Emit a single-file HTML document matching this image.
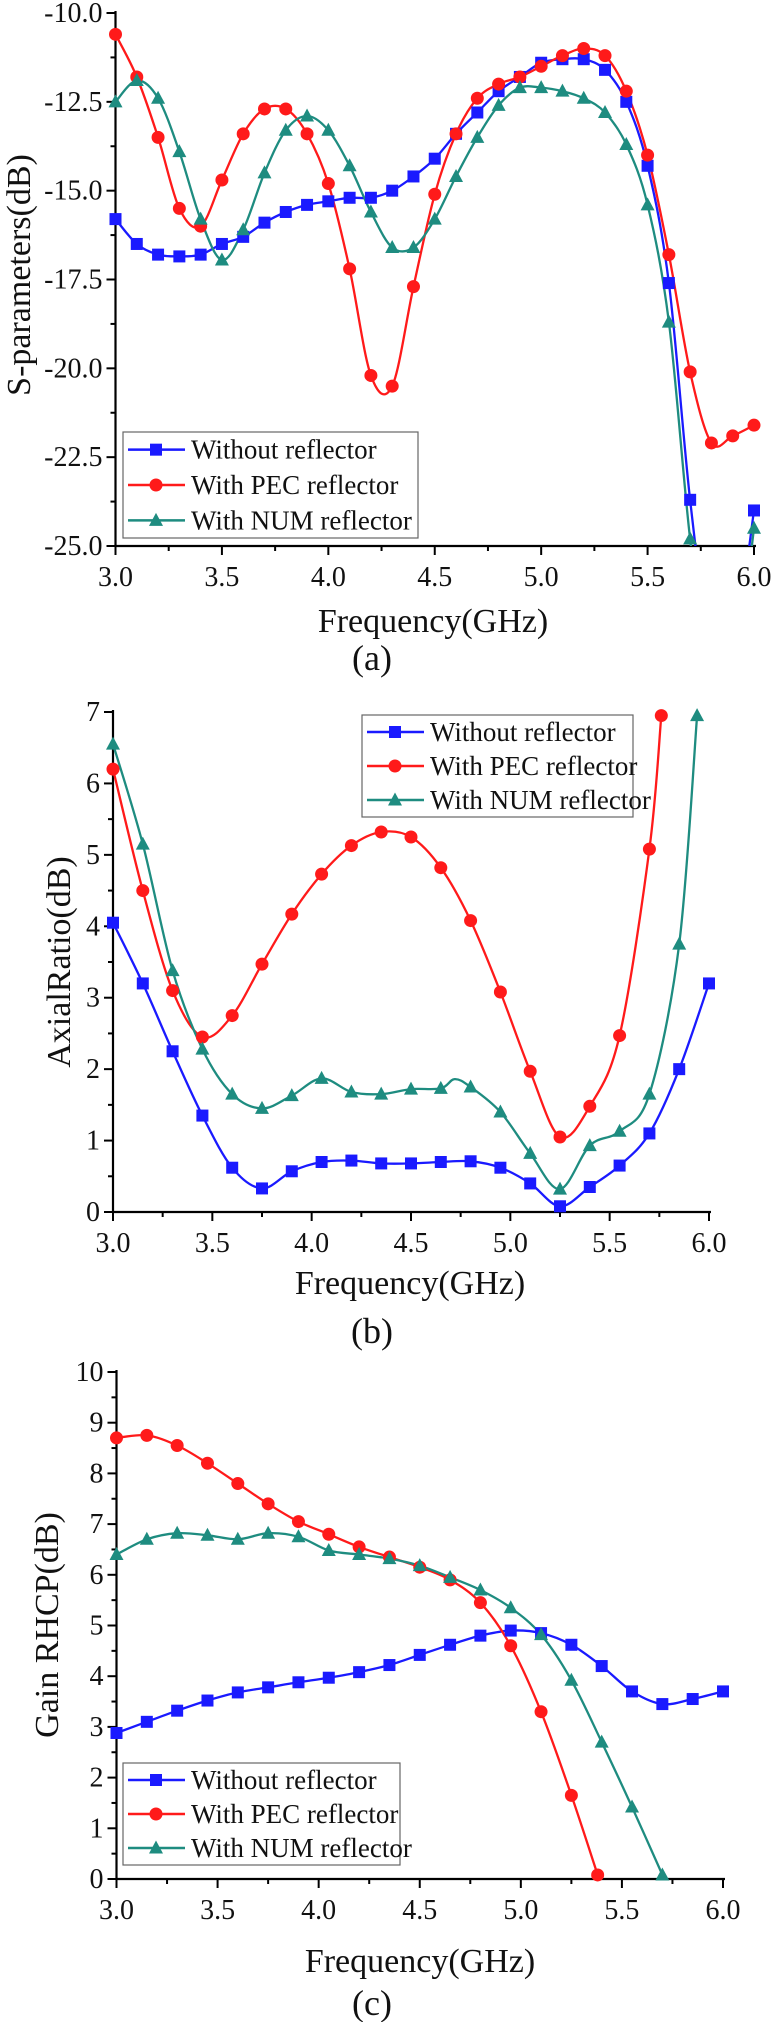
<!DOCTYPE html>
<html><head><meta charset="utf-8">
<style>
html,body{margin:0;padding:0;background:#fff;}
svg{display:block;}
text{font-family:"Liberation Serif",serif;fill:#111;}
</style></head>
<body>
<svg id="s" width="771" height="2022" viewBox="0 0 771 2022" xmlns="http://www.w3.org/2000/svg">
<defs>
<clipPath id="ca"><rect x="115" y="0" width="656" height="546"/></clipPath>
</defs>
</svg>
<script>
const NS="http://www.w3.org/2000/svg";
const S=document.getElementById('s');
function el(t,a,txt,p){const e=document.createElementNS(NS,t);for(const k in a)e.setAttribute(k,a[k]);if(txt!=null)e.textContent=txt;(p||S).appendChild(e);return e;}
const BL="#1a1aff",RD="#ff1a1a",TL="#1e8c80";
function cr(pts){
  let d="M"+pts[0][0].toFixed(1)+","+pts[0][1].toFixed(1);
  for(let i=0;i<pts.length-1;i++){
    const p0=pts[i-1]||pts[i],p1=pts[i],p2=pts[i+1],p3=pts[i+2]||p2;
    const c1=[p1[0]+(p2[0]-p0[0])/6,p1[1]+(p2[1]-p0[1])/6];
    const c2=[p2[0]-(p3[0]-p1[0])/6,p2[1]-(p3[1]-p1[1])/6];
    d+="C"+c1[0].toFixed(1)+","+c1[1].toFixed(1)+" "+c2[0].toFixed(1)+","+c2[1].toFixed(1)+" "+p2[0].toFixed(1)+","+p2[1].toFixed(1);
  }
  return d;
}
function marker(type,x,y,c,g){
  if(type==='s')el('rect',{x:x-6,y:y-6,width:12,height:12,fill:c},null,g);
  else if(type==='c')el('circle',{cx:x,cy:y,r:6.5,fill:c},null,g);
  else el('polygon',{points:`${x},${y-7.5} ${x-7},${y+5.5} ${x+7},${y+5.5}`,fill:c},null,g);
}
function chart(o){
  const X=f=>o.x0+(f-3)*(o.x1-o.x0)/3;
  const Y=v=>o.yb+(v-o.vmin)*(o.yt-o.yb)/(o.vmax-o.vmin);
  el('line',{x1:o.x0,y1:o.yt-2,x2:o.x0,y2:o.yb+1,stroke:'#000','stroke-width':2.2});
  el('line',{x1:o.x0-1,y1:o.yb,x2:o.x1+2,y2:o.yb,stroke:'#000','stroke-width':2.2});
  for(let f=3;f<=6.001;f+=0.25){
    const maj=Math.abs(f*2-Math.round(f*2))<1e-6;
    el('line',{x1:X(f),y1:o.yb,x2:X(f),y2:o.yb+(maj?9:5),stroke:'#000','stroke-width':2});
    if(maj)el('text',{x:X(f),y:o.yb+40,'text-anchor':'middle','font-size':28},f.toFixed(1));
  }
  for(let i=0;i<=o.nt*2;i++){
    const v=o.vmin+i*o.step/2;const maj=i%2==0;
    el('line',{x1:o.x0,y1:Y(v),x2:o.x0-(maj?9:5),y2:Y(v),stroke:'#000','stroke-width':2});
    if(maj)el('text',{x:o.x0-13,y:Y(v)+9,'text-anchor':'end','font-size':28},o.fmt(v));
  }
  el('text',{x:o.xl[0],y:o.xl[1],'text-anchor':'middle','font-size':34},'Frequency(GHz)');
  el('text',{x:o.cap[0],y:o.cap[1],'text-anchor':'middle','font-size':36},o.capt);
  el('text',{x:0,y:0,'text-anchor':'middle','font-size':34,transform:`translate(${o.yl[0]},${o.yl[1]}) rotate(-90)`},o.ylab);
  const g=el('g',o.clip?{'clip-path':'url(#'+o.clip+')'}:{});
  o.series.forEach(s=>{
    const pts=s.d.map(p=>[X(p[0]),Y(p[1])]);
    el('path',{d:cr(pts),fill:'none',stroke:s.c,'stroke-width':2.3},null,g);
  });
  o.series.forEach(s=>{
    s.d.forEach(p=>{ if(p[2]!==0){const y=Y(p[1]); if(y<=o.yb+1) marker(s.m,X(p[0]),y,s.c);} });
  });
  const L=o.leg;
  el('rect',{x:L[0],y:L[1],width:L[2],height:L[3],fill:'#fff',stroke:'#666','stroke-width':1.2});
  const names=['Without reflector','With PEC reflector','With NUM reflector'];
  const rh=L[3]/3;
  o.series.forEach((s,i)=>{
    const cy=L[1]+rh*(i+0.5);
    el('line',{x1:L[0]+5,y1:cy,x2:L[0]+62,y2:cy,stroke:s.c,'stroke-width':2.5});
    marker(s.m,L[0]+33,cy,s.c);
    el('text',{x:L[0]+68,y:cy+9,'font-size':27},names[i]);
  });
}
function mk(fs,vs){return fs.map((f,i)=>[f,vs[i]]);}
const fa=[];for(let i=0;i<=30;i++)fa.push(3+i*0.1);
const aB=[-15.8,-16.5,-16.8,-16.85,-16.8,-16.5,-16.3,-15.9,-15.6,-15.4,-15.3,-15.2,-15.2,-15.0,-14.6,-14.1,-13.4,-12.8,-12.2,-11.8,-11.4,-11.3,-11.3,-11.6,-12.5,-14.3,-17.6,-23.7,-28,-28,-24.0];
const aR=[-10.6,-11.8,-13.5,-15.5,-16.0,-14.7,-13.4,-12.7,-12.7,-13.4,-14.8,-17.2,-20.2,-20.5,-17.7,-15.1,-13.4,-12.4,-12.0,-11.8,-11.5,-11.2,-11.0,-11.2,-12.2,-14.0,-16.8,-20.1,-22.1,-21.9,-21.6];
const aT=[-12.5,-11.9,-12.4,-13.9,-15.8,-16.95,-16.1,-14.5,-13.3,-12.9,-13.3,-14.3,-15.6,-16.6,-16.6,-15.8,-14.6,-13.5,-12.6,-12.1,-12.1,-12.2,-12.4,-12.8,-13.7,-15.4,-18.7,-24.8,-29,-29,-24.5];
chart({x0:115.5,x1:754,yt:13,yb:546,vmin:-25,vmax:-10,step:2.5,nt:6,fmt:v=>v.toFixed(1),
 xl:[433,632],cap:[372,670],capt:'(a)',ylab:'S-parameters(dB)',yl:[30,275],clip:'ca',
 leg:[123,432,295,106],
 series:[{c:BL,m:'s',d:mk(fa,aB)},{c:RD,m:'c',d:mk(fa,aR)},{c:TL,m:'t',d:mk(fa,aT)}]});
const fb=[];for(let i=0;i<=20;i++)fb.push(3+i*0.15);
const bB=[4.05,3.2,2.25,1.35,0.62,0.33,0.57,0.7,0.72,0.68,0.68,0.7,0.71,0.62,0.4,0.08,0.35,0.65,1.1,2.0,3.2];
const bR=[6.2,4.5,3.1,2.45,2.75,3.47,4.17,4.73,5.13,5.32,5.25,4.82,4.08,3.08,1.97,1.05,1.48,2.47,5.08];
const bT=[6.55,5.15,3.38,2.28,1.65,1.45,1.63,1.87,1.68,1.65,1.72,1.73,1.75,1.4,0.82,0.32,0.93,1.13,1.65,3.75];
const rD=mk(fb.slice(0,19),bR);rD.push([5.76,6.95]);
const tD=mk(fb.slice(0,20),bT);tD.splice(12,0,[4.72,1.86,0]);tD.push([5.94,6.95]);
chart({x0:113,x1:709,yt:712,yb:1212,vmin:0,vmax:7,step:1,nt:7,fmt:v=>v.toFixed(0),
 xl:[410,1294],cap:[372,1343],capt:'(b)',ylab:'AxialRatio(dB)',yl:[70,962],
 leg:[362,715,271,102],
 series:[{c:BL,m:'s',d:mk(fb,bB)},{c:RD,m:'c',d:rD},{c:TL,m:'t',d:tD}]});
const cB=[2.88,3.1,3.32,3.52,3.68,3.78,3.88,3.97,4.08,4.22,4.42,4.62,4.8,4.9,4.85,4.62,4.2,3.7,3.45,3.55,3.7];
const cR=[8.7,8.75,8.55,8.2,7.8,7.4,7.05,6.8,6.55,6.35,6.15,5.9,5.45,4.6,3.3,1.65];
const cT=[6.4,6.7,6.82,6.78,6.7,6.82,6.75,6.48,6.4,6.32,6.18,5.95,5.7,5.35,4.82,3.92,2.7,1.42];
const crD=mk(fb.slice(0,16),cR);crD.push([5.38,0.08]);
const ctD=mk(fb.slice(0,18),cT);ctD.push([5.7,0.08]);
chart({x0:116.5,x1:723,yt:1372,yb:1879,vmin:0,vmax:10,step:1,nt:10,fmt:v=>v.toFixed(0),
 xl:[420,1972],cap:[372,2015],capt:'(c)',ylab:'Gain RHCP(dB)',yl:[58,1625],
 leg:[123,1763,277,102],
 series:[{c:BL,m:'s',d:mk(fb,cB)},{c:RD,m:'c',d:crD},{c:TL,m:'t',d:ctD}]});
</script>
</body></html>
